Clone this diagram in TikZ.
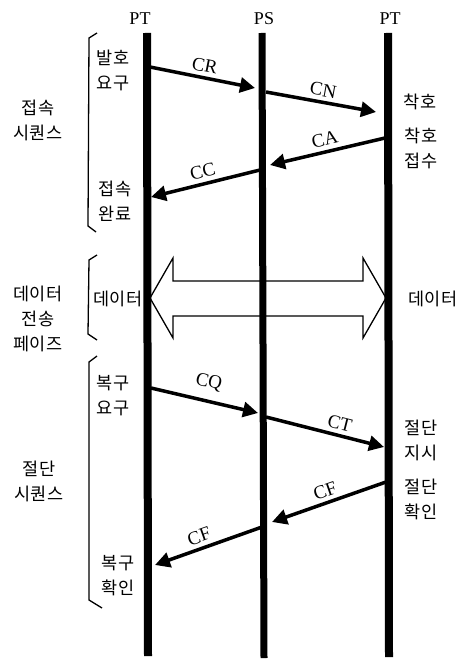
\documentclass[tikz,border=0pt]{standalone}
\usepackage{fontspec}
\setmainfont{Liberation Serif}
\newfontfamily\kr{Noto Sans CJK KR}
\usetikzlibrary{arrows.meta}
\tikzset{
  lifeline/.style={line width=8pt},
  msg/.style={line width=3.5pt,-{Triangle[length=15pt,width=15pt]}},
  msglabel/.style={font=\fontsize{19}{19}\selectfont,above=3pt,sloped,inner sep=1pt},
  kr/.style={font=\kr\fontsize{17.5}{25}\selectfont,align=center,inner sep=0pt},
  hdr/.style={font=\fontsize{18}{18}\selectfont,inner sep=0pt},
  brk/.style={line width=1.3pt,line join=round},
  dataarrow/.style={draw,fill=white,line width=1.3pt,line join=miter}
}
\begin{document}
\begin{tikzpicture}[x=1pt,y=-1pt]
\useasboundingbox (0,0) rectangle (472,660);
\fill[white] (0,0) rectangle (472,660);
% headers
\node[hdr] (hA) at (140,19) {PT};
\node[hdr] (hB) at (264,19) {PS};
\node[hdr] (hC) at (390,19) {PT};
% lifeline ends
\coordinate (A1) at (147,33); \coordinate (A2) at (148,656);
\coordinate (B1) at (262,33); \coordinate (B2) at (264,658);
\coordinate (C1) at (388,33); \coordinate (C2) at (389,657);
% data arrow (behind lifelines)
\coordinate (dl) at (150,298); \coordinate (dr) at (386,298);
\draw[dataarrow] (dl) -- (173,258) -- (173,281) -- (363,281) -- (363,258) -- (dr)
  -- (363,338) -- (363,316) -- (173,316) -- (173,338) -- cycle;
% lifelines
\draw[lifeline] (A1) -- (A2);
\draw[lifeline,line width=7pt] (B1) -- (B2);
\draw[lifeline] (C1) -- (C2);
% message coordinates
\coordinate (crs) at (150,67);  \coordinate (cre) at (255,88);
\coordinate (cns) at (266,92);  \coordinate (cne) at (376,112);
\coordinate (cas) at (385,138); \coordinate (cae) at (270,165);
\coordinate (ccs) at (260,170); \coordinate (cce) at (151,197);
\coordinate (cqs) at (151,388); \coordinate (cqe) at (258,413);
\coordinate (cts) at (266,417); \coordinate (cte) at (384,447);
\coordinate (cfs) at (386,482); \coordinate (cfe) at (272,522);
\coordinate (cgs) at (262,527); \coordinate (cge) at (155,565);
% messages
\draw[msg] (crs) -- node[msglabel] (lCR) {CR} (cre);
\draw[msg] (cns) -- node[msglabel] (lCN) {CN} (cne);
\draw[msg] (cas) -- node[msglabel] (lCA) {CA} (cae);
\draw[msg] (ccs) -- node[msglabel] (lCC) {CC} (cce);
\draw[msg] (cqs) -- node[msglabel,above=5pt] (lCQ) {CQ} (cqe);
\draw[msg] (cts) -- node[msglabel,pos=0.6] (lCT) {CT} (cte);
\draw[msg] (cfs) -- node[msglabel] (lCF1) {CF} (cfe);
\draw[msg] (cgs) -- node[msglabel,pos=0.55] (lCF2) {CF} (cge);
% brackets
\draw[brk] (97,33) -- (89,38) -- (88,226) -- (96,232);
\draw[brk] (97,255) -- (89,260) -- (88,334) -- (97,340);
\draw[brk] (97,356) -- (89,362) -- (89,600) -- (102,608);
% Korean labels
\node[kr] (t1) at (38,120) {접속\\시퀀스};
\node[kr] (t2) at (113,70) {발호\\요구};
\node[kr] (t3) at (115,201) {접속\\완료};
\node[kr] (t4) at (420,102) {착호};
\node[kr] (t5) at (421,148) {착호\\접수};
\node[kr] (t6) at (38,319) {데이터\\전송\\페이즈};
\node[kr] (t7) at (118,299) {데이터};
\node[kr] (t8) at (433,299) {데이터};
\node[kr] (t9) at (113,396) {복구\\요구};
\node[kr] (t10) at (39,481) {절단\\시퀀스};
\node[kr] (t11) at (421,440) {절단\\지시};
\node[kr] (t12) at (421,499) {절단\\확인};
\node[kr] (t13) at (118,576) {복구\\확인};
\end{tikzpicture}
\end{document}
